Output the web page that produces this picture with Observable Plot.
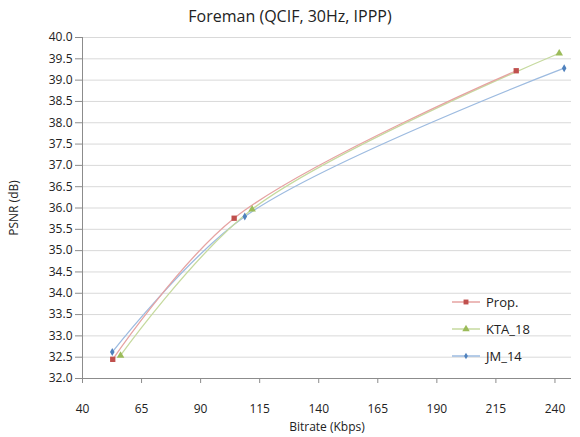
<!DOCTYPE html>
<html><head><meta charset="utf-8">
<script src="https://cdn.jsdelivr.net/npm/d3@7"></script>
<script src="https://cdn.jsdelivr.net/npm/@observablehq/plot@0.6"></script>
<style>
body{margin:0;background:#fff;font-family:"Open Sans","Noto Sans",sans-serif;}
#wrap{position:relative;width:580px;height:437px;}
#title{position:absolute;top:5px;left:0;width:580px;text-align:center;font-size:16px;color:#222;}
#legend{position:absolute;left:452px;top:288px;font-size:13px;color:#222;}
.li{display:flex;align-items:center;height:27px;}
.li svg{margin-right:4px;}
</style>
</head><body>
<div id="wrap"><div id="title">Foreman (QCIF, 30Hz, IPPP)</div><div id="chart"></div><div id="legend"></div></div>
<script>
const seriesNames = ["Prop.", "KTA_18", "JM_14"];
const propX = [52.8, 104.2, 223.6];
const propY = [32.45, 35.76, 39.22];
const ktaX = [56.1, 111.8, 241.8];
const ktaY = [32.54, 35.97, 39.63];
const jmX = [52.6, 108.7, 243.9];
const jmY = [32.62, 35.80, 39.28];
const xTicks = [40, 65, 90, 115, 140, 165, 190, 215, 240];
const yTicks = d3.range(32, 40.001, 0.5);

const lineColors = {"Prop.": "#e6a3a2", "KTA_18": "#c6da9f", "JM_14": "#9dbbe0"};
const markColors = {"Prop.": "#c0504d", "KTA_18": "#9bbb59", "JM_14": "#4f81bd"};
const symbols = {"Prop.": "square", "KTA_18": "triangle", "JM_14": "diamond"};
const sizes = {"Prop.": 3, "KTA_18": 2.8, "JM_14": 2.4};

const rows = [];
[[seriesNames[0], propX, propY], [seriesNames[1], ktaX, ktaY], [seriesNames[2], jmX, jmY]]
  .forEach(([s, xs, ys]) => xs.forEach((x, i) => rows.push({s, x, y: ys[i]})));
const order = ["JM_14", "KTA_18", "Prop."];

const marks = [
  Plot.ruleY(yTicks.slice(1), {stroke: "#d9d9d9", strokeWidth: 1}),
  Plot.axisY({ticks: yTicks, tickFormat: d => d.toFixed(1), tickSize: 7, tickPadding: 3, fontSize: 12,
    label: "PSNR (dB)", labelAnchor: "center", labelArrow: "none", labelOffset: 73, stroke: "#8c8c8c", color: "#222"}),
  Plot.axisX({ticks: xTicks, tickSize: 5, tickPadding: 21, fontSize: 12,
    label: "Bitrate (Kbps)", labelAnchor: "center", labelArrow: "none", labelOffset: 52, stroke: "#8c8c8c", color: "#222"}),
  Plot.ruleX([40], {stroke: "#8c8c8c"}),
  Plot.ruleY([32], {stroke: "#8c8c8c"})
];
for (const s of order) {
  const d = rows.filter(r => r.s === s);
  marks.push(Plot.line(d, {x: "x", y: "y", curve: "catmull-rom", stroke: lineColors[s], strokeWidth: 1.3}));
}
for (const s of order) {
  const d = rows.filter(r => r.s === s);
  marks.push(Plot.dot(d, {x: "x", y: "y", symbol: () => symbols[s], r: sizes[s], fill: markColors[s], stroke: "none"}));
}

const chart = Plot.plot({
  width: 580, height: 437,
  marginTop: 37, marginBottom: 59, marginLeft: 82, marginRight: 9,
  style: {fontFamily: "'Open Sans','Noto Sans',sans-serif", fontSize: "12px", color: "#222"},
  x: {domain: [40, 247]},
  y: {domain: [32, 40]},
  symbol: {type: "identity"},
  marks
});
document.getElementById("chart").appendChild(chart);

const leg = d3.select("#legend");
for (const s of seriesNames) {
  const item = leg.append("div").attr("class", "li");
  const sv = item.append("svg").attr("width", 30).attr("height", 10);
  sv.append("line").attr("x1", 0).attr("x2", 28).attr("y1", 5).attr("y2", 5).attr("stroke", lineColors[s]).attr("stroke-width", 1.5);
  const sym = d3.symbol(s === "Prop." ? d3.symbolSquare : s === "KTA_18" ? d3.symbolTriangle : d3.symbolDiamond, s === "JM_14" ? 12 : 24)();
  sv.append("path").attr("d", sym).attr("transform", "translate(14,5)").attr("fill", markColors[s]);
  item.append("span").text(s);
}
</script>
</body></html>
